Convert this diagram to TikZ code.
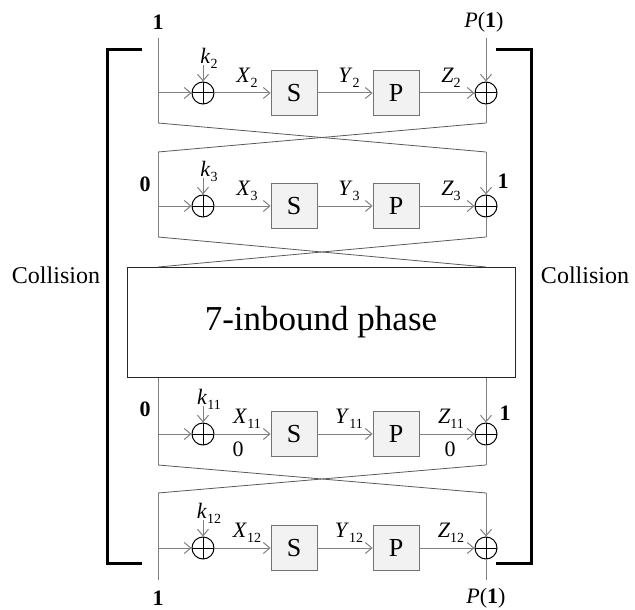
\documentclass[tikz,border=0pt]{standalone}
\usepackage{fontspec}
\setmainfont{Liberation Serif}
\usetikzlibrary{arrows.meta}

% label with a lowered subscript, e.g. X_2
\newcommand\sublab[2]{\textit{#1}\raisebox{-5pt}{\fontsize{14}{14}\selectfont #2}}

\tikzset{
  sig/.style={draw=black!50, line width=1pt},
  cross/.style={draw=black!65, line width=0.8pt},
  arr/.style={-{Straight Barb[length=6.5pt,width=11pt]}},
  sbox/.style={draw=black!55, fill=black!5, line width=0.8pt, minimum width=46pt,
    minimum height=45pt, inner sep=0pt, font=\fontsize{26}{26}\selectfont},
  xorc/.style={circle, draw=black, line width=1pt, minimum size=22pt, inner sep=0pt,
    path picture={\draw[line width=1pt]
      (path picture bounding box.north) -- (path picture bounding box.south)
      (path picture bounding box.west) -- (path picture bounding box.east);}},
  bracket/.style={draw=black, line width=3pt},
  lbl/.style={font=\fontsize{22}{22}\selectfont, inner sep=0pt},
  big/.style={font=\fontsize{24}{24}\selectfont, inner sep=0pt},
}

% one round: #1 id, #2 y of the data line, #3 round number, #4 top y, #5 bottom y
\newcommand\roundrow[5]{
  \node[xorc] (xa#1) at (203,#2) {};
  \node[sbox] (s#1) at (294,#2) {S};
  \node[sbox] (p#1) at (396,#2) {P};
  \node[xorc] (xb#1) at (486,#2) {};
  \coordinate (in#1) at (158,#2);
  \coordinate (lt#1) at (158,#4);
  \coordinate (lb#1) at (158,#5);
  \coordinate (rt#1) at (486,#4);
  \coordinate (rb#1) at (486,#5);
  \coordinate (kt#1) at (203,{#2-28});
  \node[lbl] (k#1) at (209,{#2-35}) {\sublab{k}{#3}};
  \node[lbl] (x#1) at (247,{#2-15}) {\sublab{X}{#3}};
  \node[lbl] (y#1) at (349,{#2-15}) {\sublab{Y}{#3}};
  \node[lbl] (z#1) at (451,{#2-15}) {\sublab{Z}{#3}};
  \draw[sig] (lt#1) -- (lb#1);
  \draw[sig,arr] (in#1) -- (xa#1);
  \draw[sig,arr] (kt#1) -- (xa#1);
  \draw[sig,arr] (xa#1) -- (s#1);
  \draw[sig,arr] (s#1) -- (p#1);
  \draw[sig,arr] (p#1) -- (xb#1);
  \draw[sig,arr] (rt#1) -- (xb#1);
  \draw[sig] (xb#1) -- (rb#1);
}

\begin{document}
\begin{tikzpicture}[x=1pt, y=-1pt]
\useasboundingbox (0,0) rectangle (635,610);

% rounds 2, 3, 11, 12
\roundrow{a}{93}{2}{38}{123}
\roundrow{b}{206}{3}{152}{237}
\roundrow{c}{434}{11}{377}{465}
\roundrow{d}{548}{12}{493}{580}

% inbound phase block
\node[draw=black!85, line width=0.8pt, minimum width=388pt, minimum height=110pt,
  inner sep=0pt, font=\fontsize{35}{35}\selectfont] (inb) at (321,322) {7-inbound phase};
\coordinate (bl) at (158,267);
\coordinate (br) at (486,267);

% swaps between rounds
\draw[cross] (lba) -- (rtb);
\draw[cross] (rba) -- (ltb);
\draw[cross] (lbb) -- (br);
\draw[cross] (rbb) -- (bl);
\draw[cross] (lbc) -- (rtd);
\draw[cross] (rbc) -- (ltd);

% values on the lines
\node[lbl] (ina) at (158,22) {\textbf{1}};
\node[lbl] (outa) at (484,22) {\textit{P}(\textbf{1})};
\node[lbl] (inb0) at (145,184) {\textbf{0}};
\node[lbl] (outb1) at (503,181) {\textbf{1}};
\node[lbl] (inc0) at (145,409) {\textbf{0}};
\node[lbl] (outc1) at (505,413) {\textbf{1}};
\node[lbl] (xc0) at (238,449) {0};
\node[lbl] (zc0) at (450,449) {0};
\node[lbl] (ind) at (158,598) {\textbf{1}};
\node[lbl] (outd) at (486,598) {\textit{P}(\textbf{1})};

% collision brackets
\draw[bracket] (142,50) -- (107,50) -- (107,563) -- (142,563);
\draw[bracket] (496,50) -- (531,50) -- (531,563) -- (496,563);
\node[big] (coll) at (56,275) {Collision};
\node[big] (colr) at (585,275) {Collision};
\end{tikzpicture}
\end{document}
